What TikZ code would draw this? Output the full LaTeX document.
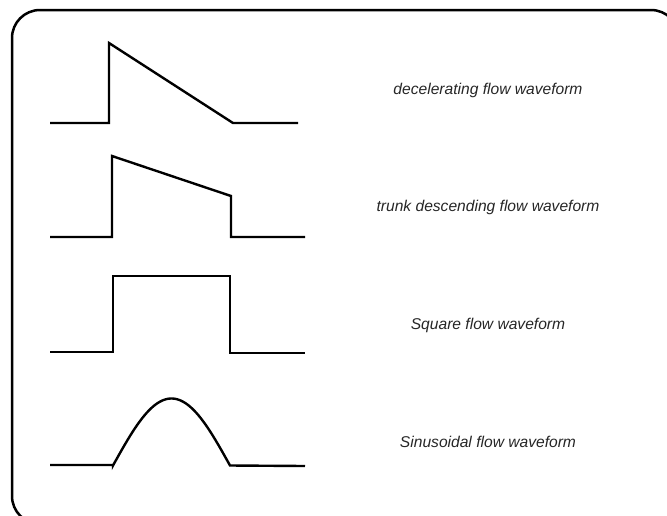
\documentclass[tikz,border=0pt]{standalone}
\usepackage{fontspec}
\setmainfont{Liberation Sans}
\definecolor{labelgray}{HTML}{262626}
\begin{document}
\begin{tikzpicture}[x=1pt,y=-1pt,
  frame/.style={line width=2.5pt, rounded corners=28pt},
  wave/.style={line width=2.4pt, line join=miter},
  wavelabel/.style={font=\fontsize{15.6}{18}\selectfont\itshape, text=labelgray, inner sep=0pt, anchor=center}]
\useasboundingbox (0,0) rectangle (667,515);
\draw[frame] (12,10) rectangle (679,524);
% decelerating
\draw[wave] (50,123) -- (109,123) -- (109,43) -- (233,123) -- (298,123);
% trunk descending
\draw[wave] (50,237) -- (112,237) -- (112,156) -- (231,196) -- (231,237) -- (305,237);
% square
\draw[wave] (50,352) -- (113,352) -- (113,276) -- (230,276) -- (230,353) -- (305,353);
% sinusoidal
\draw[wave] (50,465) -- (113,465)
  -- plot[domain=0:180, samples=80] ({113+0.65*\x}, {465.5-67*sin(\x)})
  -- (305,466);
\node[wavelabel] (l1) at (488,90) {decelerating flow waveform};
\node[wavelabel] (l2) at (488,207) {trunk descending flow waveform};
\node[wavelabel] (l3) at (488,325) {Square flow waveform};
\node[wavelabel] (l4) at (488,442) {Sinusoidal flow waveform};
\end{tikzpicture}
\end{document}
